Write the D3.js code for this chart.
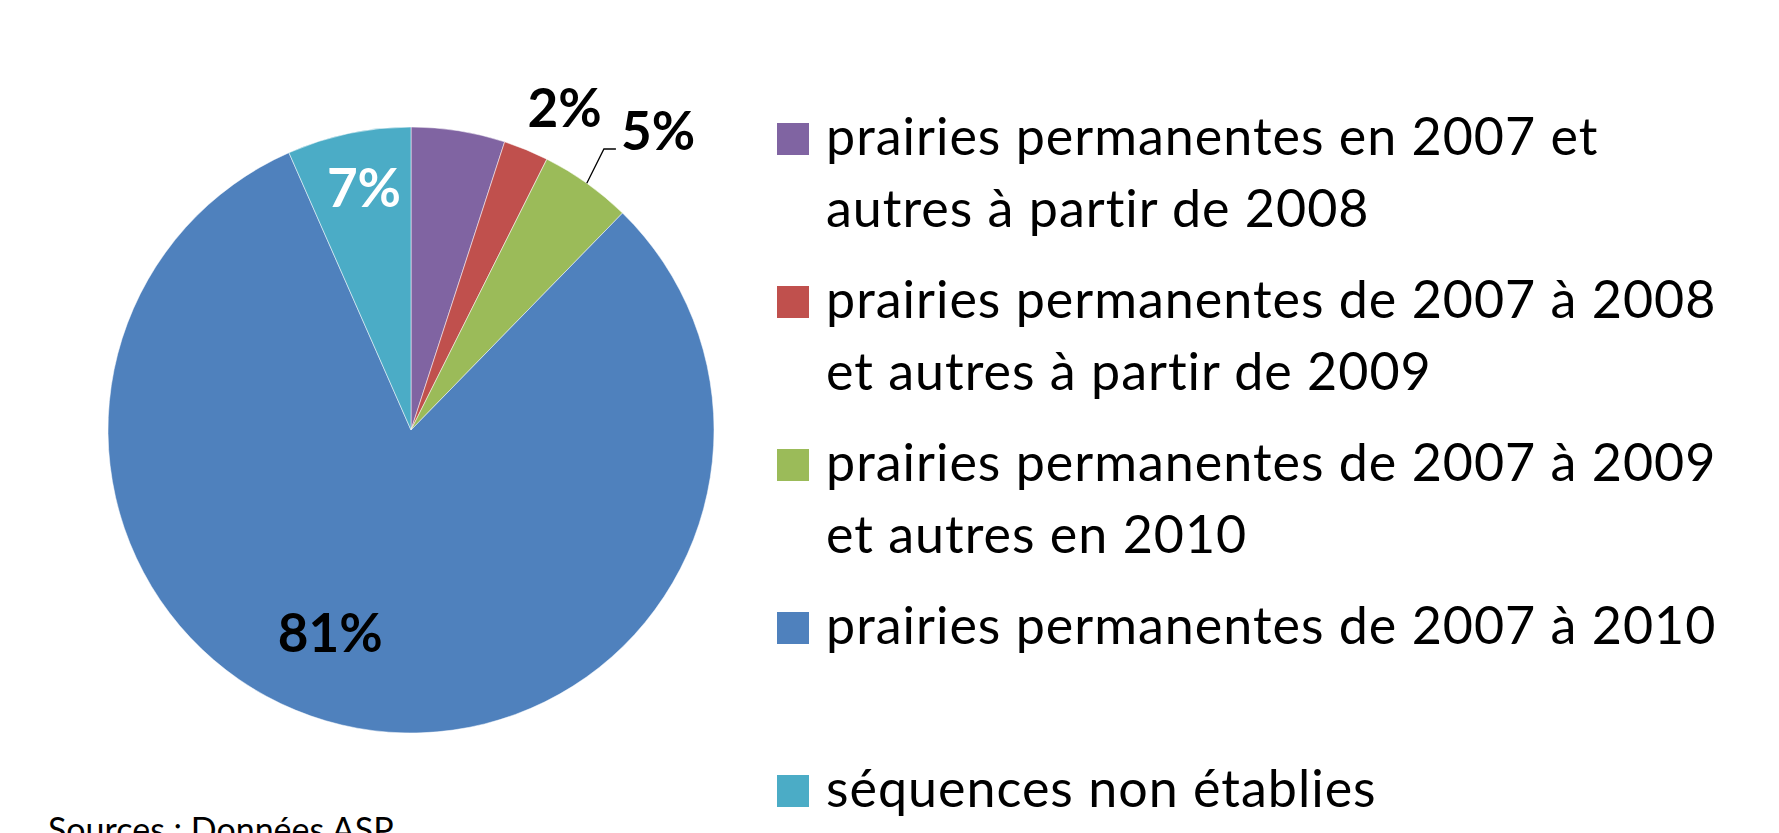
<!DOCTYPE html>
<meta charset="utf-8">
<title>Prairies permanentes</title>
<style>
    body { margin: 0; background: #fff; }
    svg { display: block; font-family: Lato, "Open Sans", sans-serif; }
</style>
<body>
<script src="https://cdnjs.cloudflare.com/ajax/libs/d3/7.8.5/d3.min.js"></script>
<script>

    // data (percent of surfaces), clockwise from 12 o'clock
    var categories = [
        "prairies permanentes en 2007 et\nautres à partir de 2008",
        "prairies permanentes de 2007 à 2008\net autres à partir de 2009",
        "prairies permanentes de 2007 à 2009\net autres en 2010",
        "prairies permanentes de 2007 à 2010",
        "séquences non établies"
    ];
    var values = [5.0, 2.4, 4.9, 81.1, 6.6];
    var showLabel = [false, true, true, true, true];
    var colors = ["#8064A2", "#C0504D", "#9BBB59", "#4F81BD", "#4BACC6"];
    var source = "Sources : Données ASP";

    // label placement: radius (x R), angle nudge (deg), colour, leader line
    var labelLayout = [
        null,
        { r: 1.177, da: 3.2, fill: "#000", leader: false },
        { r: 1.28, da: 4.1, fill: "#000", leader: true },
        { r: 0.72, da: 11.5, fill: "#000", leader: false },
        { r: 0.815, da: 0.9, fill: "#fff", leader: false }
    ];

    var width = 1779,
        height = 833,
        cx = 411, cy = 430, R = 303;

    var svg = d3.select("body").append("svg")
        .attr("width", width)
        .attr("height", height);

    var pie = d3.pie().sort(null).value(function(d) { return d; });
    var arcs = pie(values);
    var arc = d3.arc().innerRadius(0).outerRadius(R);

    var g = svg.append("g").attr("transform", "translate(" + cx + "," + cy + ")");

    g.selectAll("path.slice")
        .data(arcs)
        .enter().append("path")
        .attr("class", "slice")
        .attr("d", arc)
        .attr("fill", function(d, i) { return colors[i]; })
        .attr("stroke", "rgba(255,255,255,0.5)")
        .attr("stroke-width", 1);

    function polar(a, r) { return [Math.sin(a) * r, -Math.cos(a) * r]; }

    arcs.forEach(function(d, i) {
        if (!showLabel[i]) return;
        var lay = labelLayout[i];
        var mid = (d.startAngle + d.endAngle) / 2;
        var p = polar(mid + lay.da * Math.PI / 180, lay.r * R);
        var t = g.append("text")
            .attr("x", p[0])
            .attr("y", p[1])
            .attr("dy", "0.36em")
            .attr("text-anchor", "middle")
            .attr("font-size", 53)
            .attr("font-weight", "bold")
            .attr("fill", lay.fill)
            .text(Math.round(d.value) + "%");
        if (lay.leader) {
            var bb = t.node().getBBox();
            var edge = polar(mid, R);
            var ly = p[1] + 18;
            var ex = bb.x - 5;
            g.append("path")
                .attr("d", d3.line()([edge, [ex - 12, ly], [ex, ly]]))
                .attr("fill", "none")
                .attr("stroke", "#000")
                .attr("stroke-width", 1.3);
        }
    });

    // legend
    var legend = svg.append("g").attr("transform", "translate(777,0)");
    var item = legend.selectAll("g")
        .data(categories)
        .enter().append("g")
        .attr("transform", function(d, i) { return "translate(0," + (155 + i * 163) + ")"; });

    item.append("rect")
        .attr("x", 0)
        .attr("y", -32)
        .attr("width", 32)
        .attr("height", 32)
        .attr("fill", function(d, i) { return colors[i]; });

    item.append("text")
        .attr("x", 49)
        .attr("font-size", 52)
        .attr("letter-spacing", 1)
        .attr("fill", "#000")
        .selectAll("tspan")
        .data(function(d) { return d.split("\n"); })
        .enter().append("tspan")
        .attr("x", 49)
        .attr("y", function(d, i) { return i * 71.5; })
        .text(function(d) { return d; });

    svg.append("text")
        .attr("x", 48)
        .attr("y", 842)
        .attr("font-size", 34)
        .attr("fill", "#000")
        .text(source);

</script>
